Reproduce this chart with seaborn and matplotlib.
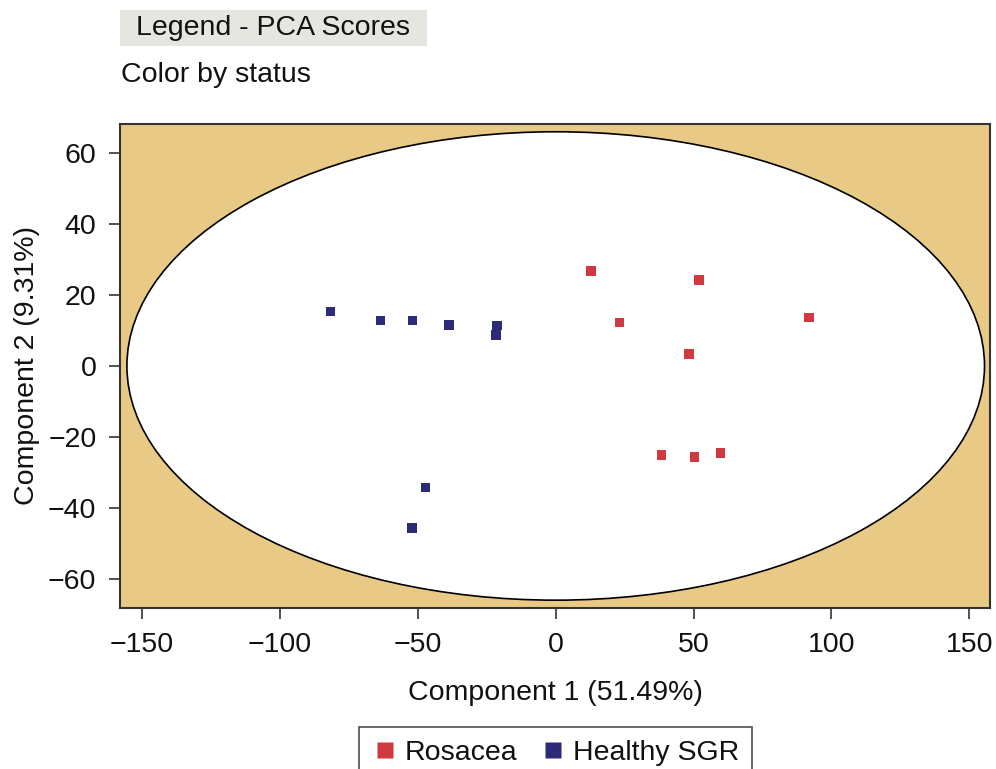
import numpy as np
import pandas as pd
import matplotlib
matplotlib.use("Agg")
import matplotlib.pyplot as plt
from matplotlib.patches import Ellipse, Rectangle
from matplotlib.lines import Line2D
import seaborn as sns

# Data
rosacea_x = [12.8, 51.9, 23.1, 91.9, 48.3, 38.3, 50.3, 59.8]
rosacea_y = [26.8, 24.3, 12.3, 13.7, 3.3, -25.1, -25.6, -24.5]
healthy_x = [-81.7, -63.5, -52.0, -38.6, -21.3, -21.7, -47.2, -52.1]
healthy_y = [15.3, 12.8, 12.8, 11.5, 11.4, 8.8, -34.3, -45.7]
groups = ["Rosacea", "Healthy SGR"]
xticks = [-150, -100, -50, 0, 50, 100, 150]
yticks = [-60, -40, -20, 0, 20, 40, 60]

df = pd.DataFrame({
    "Component 1": rosacea_x + healthy_x,
    "Component 2": rosacea_y + healthy_y,
    "status": [groups[0]] * len(rosacea_x) + [groups[1]] * len(healthy_x),
})

sns.set_theme(style="ticks")
plt.rcParams["font.family"] = ["Liberation Sans", "DejaVu Sans"]
plt.rcParams["text.color"] = "#111111"
plt.rcParams["axes.labelcolor"] = "#111111"
plt.rcParams["xtick.labelcolor"] = "#111111"
plt.rcParams["ytick.labelcolor"] = "#111111"

FS = 20.5
fig = plt.figure(figsize=(9.96, 7.69), dpi=100)
ax = fig.add_axes([0.1205, 0.2094, 0.8735, 0.6294])
ax.set_facecolor("#e8c985")

ell = Ellipse((0, 0), width=311, height=132, facecolor="white",
              edgecolor="black", linewidth=1.2, zorder=1)
ax.add_patch(ell)

palette = {"Rosacea": "#d0393f", "Healthy SGR": "#2e2a7a"}
sns.scatterplot(data=df, x="Component 1", y="Component 2", hue="status",
                palette=palette, marker="s", s=48, linewidth=0, ax=ax,
                zorder=3, legend=False)

ax.set_xlim(-158, 157.5)
ax.set_ylim(-68.2, 68.2)
ax.set_xticks(xticks)
ax.set_yticks(yticks)
ax.set_xticklabels([str(t).replace("-", "\u2212") for t in xticks])
ax.set_yticklabels([str(t).replace("-", "\u2212") for t in yticks])
ax.tick_params(labelsize=FS, length=8, width=1.2, color="#333333")
ax.tick_params(axis="y", pad=9)
ax.tick_params(axis="x", pad=9)
for sp in ax.spines.values():
    sp.set_linewidth(1.5)
    sp.set_color("#333333")
ax.set_xlabel("Component 1 (51.49%)", fontsize=FS, labelpad=16)
ax.set_ylabel("Component 2 (9.31%)", fontsize=FS, labelpad=6)

# Title box
fig.patches.append(Rectangle((0.1205, 0.9402), 0.3082, 0.0468, transform=fig.transFigure,
                             facecolor="#e6e6e0", edgecolor="none", zorder=0))
fig.text(0.1365, 0.9636, "Legend - PCA Scores", fontsize=FS, va="center", ha="left")
fig.text(0.1215, 0.9025, "Color by status", fontsize=FS, va="center", ha="left")

# Bottom legend
handles = [Line2D([0], [0], marker="s", linestyle="", markersize=11,
                  markerfacecolor=palette[g], markeredgecolor="none") for g in groups]
leg = fig.legend(handles, groups, loc="upper center", bbox_to_anchor=(0.5575, 0.0546),
                 ncol=2, fontsize=FS, frameon=True, fancybox=False,
                 handletextpad=0.25, columnspacing=0.8, borderpad=0.45, handlelength=0.9,
                 borderaxespad=0)
leg.get_frame().set_edgecolor("#222222")
leg.get_frame().set_linewidth(1.2)

fig.savefig("out.png", dpi=100)
